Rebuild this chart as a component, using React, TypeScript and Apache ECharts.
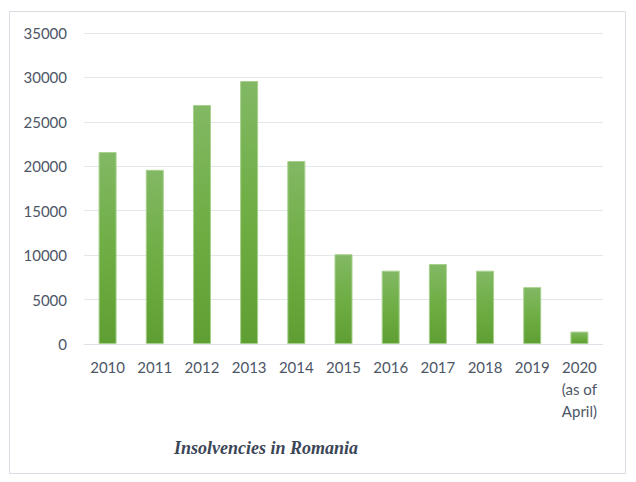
import React, { useEffect, useRef } from "react";
import * as echarts from "echarts";

const categories = ["2010", "2011", "2012", "2013", "2014", "2015", "2016", "2017", "2018", "2019", "2020\n(as of\nApril)"];
const insolvencies = [21600, 19600, 26900, 29600, 20600, 10100, 8250, 9000, 8250, 6400, 1400];
const yTicks = [0, 5000, 10000, 15000, 20000, 25000, 30000, 35000];
const chartTitle = "Insolvencies in Romania";

export default function App() {
  const ref = useRef<HTMLDivElement>(null);
  useEffect(() => {
    if (!ref.current) return;
    const chart = echarts.init(ref.current, null, { renderer: "svg" });
    chart.setOption({
      animation: false,
      backgroundColor: "#ffffff",
      graphic: [
        {
          type: "rect",
          shape: { x: 9.5, y: 11.5, width: 616, height: 462 },
          style: { fill: "none", stroke: "#d9dde3", lineWidth: 1 },
          silent: true,
        },
        {
          type: "text",
          x: 266,
          y: 448,
          style: {
            text: chartTitle,
            font: "italic bold 18px 'Liberation Serif', 'DejaVu Serif', serif",
            fill: "#3b4657",
            align: "center",
            verticalAlign: "middle",
          },
        },
      ],
      grid: { left: 84, right: 33, top: 33, bottom: 138, containLabel: false },
      xAxis: {
        type: "category",
        data: categories,
        axisLine: { show: true, lineStyle: { color: "#dde2e8", width: 1 } },
        axisTick: { show: false },
        axisLabel: {
          color: "#4d5666",
          fontSize: 15,
          fontFamily: "Lato, 'Open Sans', sans-serif",
          margin: 12,
          lineHeight: 22,
          interval: 0,
          verticalAlign: "top",
        },
      },
      yAxis: {
        type: "value",
        min: 0,
        max: yTicks[yTicks.length - 1],
        interval: 5000,
        axisLine: { show: false },
        axisTick: { show: false },
        splitLine: { lineStyle: { color: "#e3e7ec", width: 1 } },
        axisLabel: {
          color: "#4d5666",
          fontSize: 15,
          fontFamily: "Lato, 'Open Sans', sans-serif",
          margin: 17,
          formatter: (v: number) => String(v),
        },
      },
      series: [
        {
          type: "bar",
          data: insolvencies,
          barWidth: 18,
          itemStyle: {
            color: new echarts.graphic.LinearGradient(0, 0, 0, 1, [
              { offset: 0, color: "#82b864" },
              { offset: 0.5, color: "#6eae44" },
              { offset: 1, color: "#5e9e32" },
            ]),
            borderColor: "#a8d08d",
            borderWidth: 1,
          },
        },
      ],
    });
    return () => chart.dispose();
  }, []);
  return (
    <div
      ref={ref}
      style={{ position: "fixed", left: 0, top: 0, width: 636, height: 482 }}
    />
  );
}
